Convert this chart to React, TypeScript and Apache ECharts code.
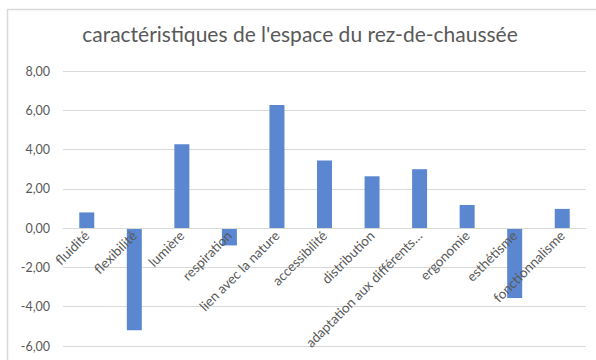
import React, { useEffect, useRef } from "react";
import * as echarts from "echarts";

const categories = [
  "fluidité",
  "flexibilité",
  "lumière",
  "respiration",
  "lien avec la nature",
  "accessibilité",
  "distribution",
  "adaptation aux différents…",
  "ergonomie",
  "esthétisme",
  "fonctionnalisme",
];
const values = [0.8, -5.2, 4.27, -0.88, 6.27, 3.45, 2.64, 3.0, 1.18, -3.55, 0.98];
const yMin = -6;
const yMax = 8;
const titleText = "caractéristiques de l'espace du rez-de-chaussée";

const GRID_TOP = 71;
const GRID_BOTTOM = 14;
const CHART_H = 360;

export default function App() {
  const ref = useRef<HTMLDivElement>(null);
  useEffect(() => {
    if (!ref.current) return;
    const chart = echarts.init(ref.current, null, { renderer: "svg" });
    const gridH = CHART_H - GRID_TOP - GRID_BOTTOM;
    const zeroOffset = -(gridH * (0 - yMin)) / (yMax - yMin);
    chart.setOption({
      animation: false,
      backgroundColor: "#ffffff",
      title: {
        text: titleText,
        left: 295,
        textAlign: "center",
        top: 18,
        textStyle: { fontFamily: "Lato", fontSize: 21, fontWeight: "normal", color: "#595959" },
      },
      graphic: [
        {
          type: "rect",
          shape: { x: 7.5, y: 9.5, width: 620, height: 400 },
          style: { fill: "none", stroke: "#d9d9d9", lineWidth: 1.5 },
          silent: true,
        },
      ],
      grid: { left: 63, right: 10, top: GRID_TOP, bottom: GRID_BOTTOM, containLabel: false, outerBoundsMode: "none" },
      xAxis: {
        type: "category",
        data: categories,
        position: "bottom",
        offset: zeroOffset,
        axisLine: { onZero: false, lineStyle: { color: "#d9d9d9" } },
        axisTick: { show: false },
        axisLabel: {
          rotate: 45,
          interval: 0,
          color: "#595959",
          fontFamily: "Lato",
          fontSize: 13.5,
          margin: 5,
        },
        z: 10,
      },
      yAxis: {
        type: "value",
        min: yMin,
        max: yMax,
        interval: 2,
        axisLine: { show: false },
        axisTick: { show: false },
        splitLine: { lineStyle: { color: "#d9d9d9", width: 1 } },
        axisLabel: {
          color: "#595959",
          fontFamily: "Lato",
          fontSize: 12.5,
          margin: 13,
          formatter: (v: number) => v.toFixed(2).replace(".", ","),
        },
      },
      series: [
        {
          type: "bar",
          data: values,
          barWidth: 15,
          itemStyle: { color: "#5b87d0" },
        },
      ],
    });
    return () => chart.dispose();
  }, []);
  return (
    <div
      ref={ref}
      style={{ position: "fixed", left: 0, top: 0, width: 596, height: 360 }}
    />
  );
}
